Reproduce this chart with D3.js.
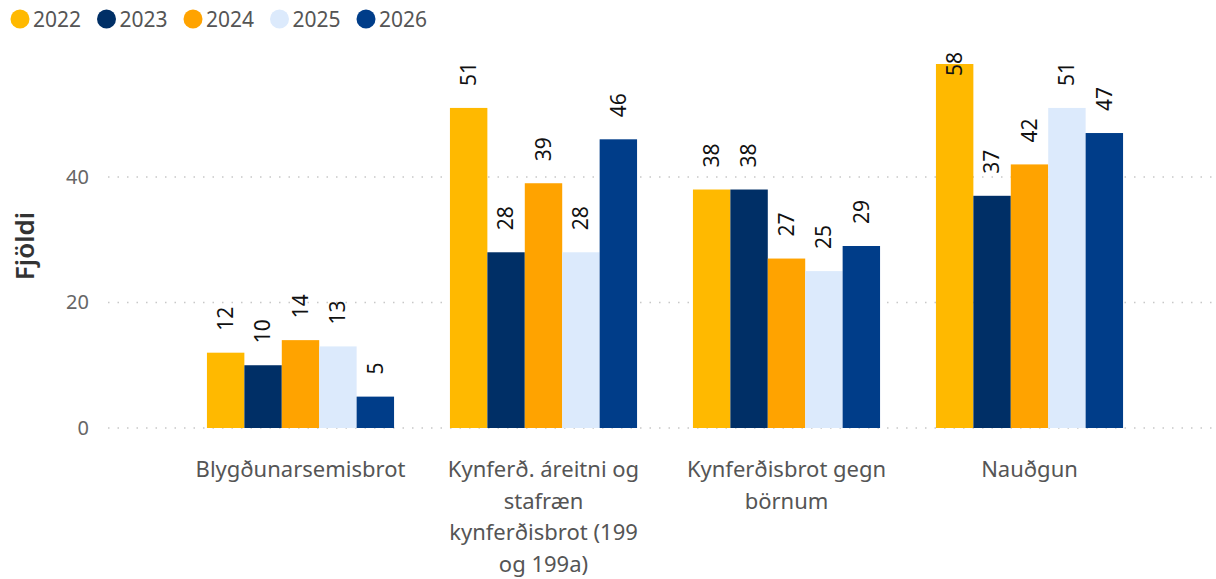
<!DOCTYPE html>
<html>
<head>
<meta charset="utf-8">
<script src="https://cdn.jsdelivr.net/npm/d3@7"></script>
<style>
    body { margin: 0; background: #fff; }
    text { font-family: "Segoe UI", "Noto Sans", sans-serif; }
</style>
</head>
<body>
<div id="chart"></div>
<script>
const categories = ["Blygðunarsemisbrot", "Kynferð. áreitni og stafræn kynferðisbrot (199 og 199a)", "Kynferðisbrot gegn börnum", "Nauðgun"];
const years = ["2022", "2023", "2024", "2025", "2026"];
const colors = ["#FFB900", "#002F66", "#FFA300", "#DCEAFC", "#003D89"];
const v2022 = [12, 51, 38, 58];
const v2023 = [10, 28, 38, 37];
const v2024 = [14, 39, 27, 42];
const v2025 = [13, 28, 25, 51];
const v2026 = [5, 46, 29, 47];
const yTicks = [0, 20, 40];

const series = [v2022, v2023, v2024, v2025, v2026];

const width = 1216, height = 579;
const svg = d3.select("#chart").append("svg")
    .attr("width", width)
    .attr("height", height);

const x0 = d3.scaleBand()
    .domain(categories)
    .range([179, 1151])
    .paddingInner(0.23)
    .paddingOuter(0.115);

const x1 = d3.scaleBand()
    .domain(years)
    .range([0, x0.bandwidth()]);

const y = d3.scaleLinear()
    .domain([0, 58])
    .range([428, 64]);

// gridlines
svg.selectAll('line.grid')
    .data(yTicks)
    .enter()
    .append('line')
    .attr('class', 'grid')
    .attr('x1', 108)
    .attr('x2', 1212)
    .attr('y1', d => y(d))
    .attr('y2', d => y(d))
    .attr('stroke', '#c8c8c8')
    .attr('stroke-width', 1.5)
    .attr('stroke-dasharray', '1.5,8');

svg.selectAll('text.ytick')
    .data(yTicks)
    .enter()
    .append('text')
    .attr('class', 'ytick')
    .attr('x', 89)
    .attr('y', d => y(d))
    .attr('dy', '0.35em')
    .attr('text-anchor', 'end')
    .attr('fill', '#666')
    .attr('font-size', 20)
    .text(d => d);

svg.append('text')
    .attr('transform', 'translate(34,246) rotate(-90)')
    .attr('text-anchor', 'middle')
    .attr('font-size', 26)
    .attr('font-weight', 600)
    .attr('fill', '#333')
    .text('Fjöldi');

// bars
const groups = svg.selectAll('g.cat')
    .data(categories)
    .enter()
    .append('g')
    .attr('transform', d => `translate(${x0(d)},0)`);

groups.each(function(cat, ci) {
    const g = d3.select(this);
    const rows = years.map((yr, si) => ({ year: yr, value: series[si][ci], color: colors[si] }));

    g.selectAll('rect')
        .data(rows)
        .enter()
        .append('rect')
        .attr('x', d => x1(d.year))
        .attr('y', d => y(d.value))
        .attr('width', x1.bandwidth())
        .attr('height', d => y(0) - y(d.value))
        .attr('fill', d => d.color);

    g.selectAll('text')
        .data(rows)
        .enter()
        .append('text')
        .attr('transform', d => {
            const cx = x1(d.year) + x1.bandwidth() / 2;
            let ty = y(d.value) - 22;
            if (ty - 24 < 52) ty = 76;
            return `translate(${cx},${ty}) rotate(-90)`;
        })
        .attr('dy', '0.35em')
        .attr('text-anchor', 'start')
        .attr('font-size', 21)
        .attr('fill', '#111')
        .text(d => d.value);
});

// category labels
function wrap(textSel, maxWidth) {
    textSel.each(function() {
        const text = d3.select(this);
        const words = text.text().split(/\s+/);
        const cx = text.attr('x');
        text.text(null);
        let line = [];
        let tspan = text.append('tspan').attr('x', cx).attr('dy', 0);
        words.forEach(w => {
            line.push(w);
            tspan.text(line.join(' '));
            if (tspan.node().getComputedTextLength() > maxWidth && line.length > 1) {
                line.pop();
                tspan.text(line.join(' '));
                line = [w];
                tspan = text.append('tspan').attr('x', cx).attr('dy', 31.5).text(w);
            }
        });
    });
}

svg.selectAll('text.cat')
    .data(categories)
    .enter()
    .append('text')
    .attr('class', 'cat')
    .attr('x', d => x0(d) + x0.bandwidth() / 2)
    .attr('y', 477)
    .attr('text-anchor', 'middle')
    .attr('font-size', 22)
    .attr('fill', '#555')
    .text(d => d)
    .call(wrap, 206);

// legend
const legend = svg.selectAll('g.legend')
    .data(years)
    .enter()
    .append('g')
    .attr('transform', (d, i) => `translate(${20 + i * 86.5},19)`);

legend.append('circle')
    .attr('r', 9.5)
    .attr('fill', (d, i) => colors[i]);

legend.append('text')
    .attr('x', 13)
    .attr('dy', '0.36em')
    .attr('font-size', 21)
    .attr('fill', '#555')
    .text(d => d);
</script>
</body>
</html>
